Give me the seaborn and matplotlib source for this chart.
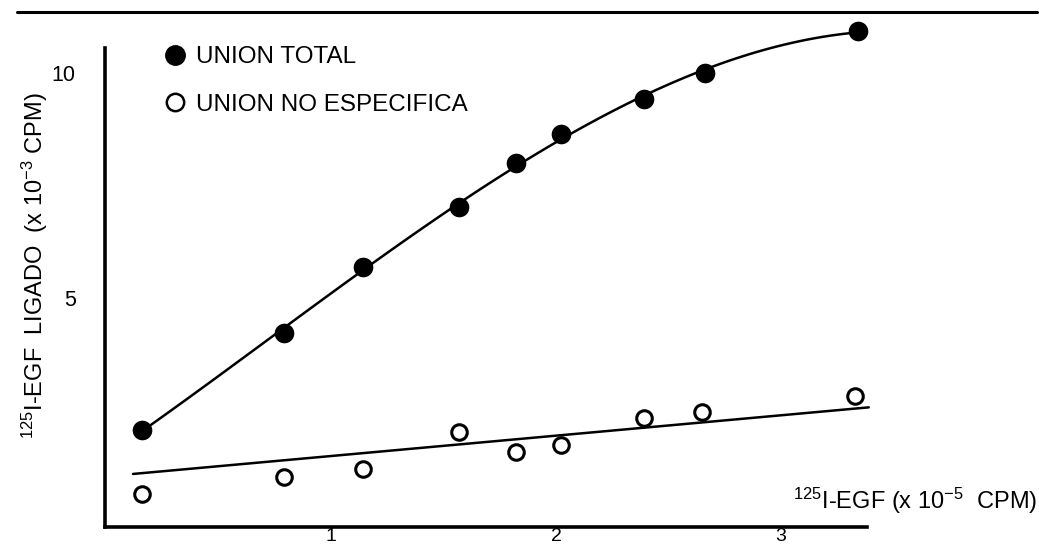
import matplotlib

matplotlib.use("Agg")
import matplotlib.pyplot as plt
from matplotlib.lines import Line2D
import seaborn as sns
import numpy as np

# values
total_x = [0.16, 0.79, 1.14, 1.57, 1.82, 2.02, 2.39, 2.66, 3.34]
total_y = [2.07, 4.23, 5.68, 7.02, 8.0, 8.64, 9.42, 10.01, 10.93]

nonspec_x = [0.16, 0.79, 1.14, 1.57, 1.82, 2.02, 2.39, 2.65, 3.33]
nonspec_y = [0.64, 1.03, 1.2, 2.02, 1.57, 1.73, 2.33, 2.47, 2.83]

# straight line drawn through the non specific binding
nonspec_line_x = [0.12, 3.39]
nonspec_line_y = [1.09, 2.57]

x_ticks = [1, 2, 3]
y_ticks = [5, 10]
legend_labels = ["UNION TOTAL", "UNION NO ESPECIFICA"]

W, H = 1039, 553

sns.set_theme(style="white")
plt.rcParams["font.family"] = ["Liberation Sans", "DejaVu Sans"]
plt.rcParams["mathtext.default"] = "regular"
plt.rcParams["text.color"] = "black"

fig = plt.figure(figsize=(W / 100, H / 100), dpi=100)

# axes placed in pixel terms: x=0 at 106 px, 225 px per unit; y=0 at 523 px, 45 px per unit
left_px, right_px, top_px, bottom_px = 105, 1035, 20, 527
ax = fig.add_axes(
    [left_px / W, 1 - bottom_px / H, (right_px - left_px) / W, (bottom_px - top_px) / H]
)
ax.set_xlim((left_px - 106) / 225, (right_px - 106) / 225)
ax.set_ylim((523 - bottom_px) / 45, (523 - top_px) / 45)

# fitted curve for total binding
sns.regplot(
    x=np.array(total_x),
    y=np.array(total_y),
    order=3,
    ci=None,
    scatter=False,
    line_kws=dict(color="black", lw=1.8),
    ax=ax,
)
sns.lineplot(x=nonspec_line_x, y=nonspec_line_y, color="black", lw=1.8, ax=ax)

sns.scatterplot(
    x=total_x, y=total_y, s=200, color="black", edgecolor="black", linewidth=0, ax=ax,
    zorder=3,
)
sns.scatterplot(
    x=nonspec_x, y=nonspec_y, s=125, facecolor="white", edgecolor="black",
    linewidth=2.2, ax=ax, zorder=3,
)

for side in ["top", "right"]:
    ax.spines[side].set_visible(False)
for side in ["left", "bottom"]:
    ax.spines[side].set_linewidth(2.6)
    ax.spines[side].set_color("black")
ax.spines["bottom"].set_bounds((left_px - 106) / 225, (867 - 106) / 225)
ax.spines["left"].set_bounds((523 - bottom_px) / 45, (523 - 48) / 45)

ax.set_xticks(x_ticks)
ax.set_yticks(y_ticks)
ax.set_xticklabels([str(t) for t in x_ticks])
ax.set_yticklabels([str(t) for t in y_ticks])
ax.tick_params(axis="both", length=0, colors="black")
ax.tick_params(axis="y", pad=21, labelsize=15.5)
# labels sit right on the bottom edge, as in the scan
ax.tick_params(axis="x", pad=1, labelsize=14)
ax.set_xlabel("")
ax.set_ylabel("")

# axis titles
fig.text(
    35 / W, 1 - 266 / H, r"$^{125}$I-EGF  LIGADO  (x 10$^{-3}$ CPM)",
    rotation=90, ha="center", va="center", fontsize=17,
)
fig.text(
    1037 / W, 1 - 509 / H, r"$^{125}$I-EGF (x 10$^{-5}$  CPM)",
    ha="right", va="baseline", fontsize=17,
)

# legend
handles = [
    Line2D([], [], ls="", marker="o", markersize=14, color="black"),
    Line2D([], [], ls="", marker="o", markersize=12.5, markerfacecolor="white",
           markeredgecolor="black", markeredgewidth=1.8),
]
ax.legend(
    handles, legend_labels, loc="upper left", bbox_to_anchor=(165.5 / W, 1 - 46 / H),
    bbox_transform=fig.transFigure, frameon=False, fontsize=17.5, handlelength=0.8,
    handletextpad=0.45, labelspacing=1.05, borderpad=0, borderaxespad=0,
)

# rule across the top of the page
fig.add_artist(Line2D([17 / W, 1037 / W], [1 - 12 / H, 1 - 12 / H], lw=2.2, color="black"))

plt.savefig("out.png", dpi=100)
